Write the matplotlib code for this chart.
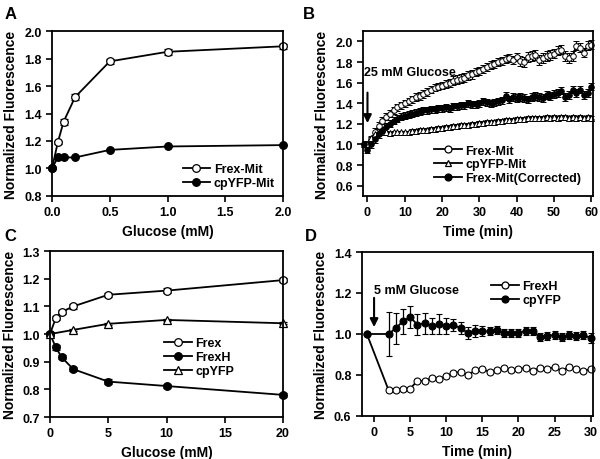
import numpy as np
import matplotlib
matplotlib.use("Agg")
import matplotlib.pyplot as plt
from matplotlib.lines import Line2D

plt.rcParams['font.family'] = ['Liberation Sans', 'DejaVu Sans']
plt.rcParams['font.weight'] = 'bold'
plt.rcParams['axes.labelweight'] = 'bold'
plt.rcParams['font.size'] = 9

# ---------- Panel A ----------
a_glucose = [0, 0.05, 0.1, 0.2, 0.5, 1.0, 2.0]
a_frex_mit = [1.0, 1.19, 1.34, 1.52, 1.78, 1.85, 1.89]
a_frex_mit_err = [0.0, 0.012, 0.02, 0.02, 0.02, 0.02, 0.02]
a_cpyfp_mit = [1.0, 1.08, 1.08, 1.08, 1.135, 1.16, 1.17]
a_cpyfp_mit_err = [0.0, 0.005, 0.005, 0.005, 0.005, 0.005, 0.005]

# ---------- Panel B ----------
b_time = list(range(-1, 61))
b_frex_mit = [1.0, 1.0, 1.05, 1.12, 1.18, 1.23, 1.27, 1.30, 1.33, 1.36, 1.38,
              1.40, 1.42, 1.44, 1.46, 1.47, 1.49, 1.51, 1.53, 1.55, 1.56,
              1.57, 1.59, 1.60, 1.62, 1.63, 1.64, 1.65, 1.67, 1.68, 1.70,
              1.71, 1.73, 1.75, 1.77, 1.78, 1.80, 1.81, 1.83, 1.84, 1.82,
              1.85, 1.81, 1.80, 1.85, 1.86, 1.87, 1.82, 1.84, 1.86, 1.87,
              1.88, 1.91, 1.92, 1.86, 1.84, 1.86, 1.96, 1.94, 1.89, 1.96, 1.97]
b_frex_mit_err = [0.0, 0.03] + [0.035] * 20 + [0.04] * 20 + [0.045] * 20
b_cpyfp_mit = [1.0, 1.0, 1.06, 1.10, 1.12, 1.12, 1.12, 1.11, 1.12, 1.12, 1.12,
               1.12, 1.12, 1.13, 1.13, 1.14, 1.14, 1.14, 1.15, 1.15, 1.16,
               1.16, 1.17, 1.17, 1.18, 1.18, 1.19, 1.19, 1.19, 1.20, 1.20,
               1.21, 1.21, 1.22, 1.22, 1.22, 1.23, 1.23, 1.24, 1.24, 1.24,
               1.25, 1.25, 1.25, 1.26, 1.26, 1.26, 1.26, 1.26, 1.27, 1.26,
               1.27, 1.26, 1.27, 1.27, 1.26, 1.27, 1.26, 1.27, 1.26, 1.27, 1.26]
b_cpyfp_mit_err = [0.0] + [0.015] * 61
b_frex_corr = [1.0, 0.95, 1.0, 1.05, 1.10, 1.13, 1.17, 1.20, 1.23, 1.25, 1.27,
               1.28, 1.29, 1.30, 1.31, 1.32, 1.33, 1.33, 1.34, 1.34, 1.35,
               1.35, 1.36, 1.35, 1.37, 1.37, 1.38, 1.38, 1.40, 1.39, 1.39,
               1.40, 1.42, 1.41, 1.40, 1.41, 1.42, 1.43, 1.47, 1.44, 1.46,
               1.45, 1.46, 1.45, 1.44, 1.46, 1.47, 1.46, 1.45, 1.48, 1.47,
               1.49, 1.50, 1.52, 1.46, 1.48, 1.53, 1.50, 1.53, 1.48, 1.50, 1.56]
b_frex_corr_err = [0.0, 0.03] + [0.035] * 60

# ---------- Panel C ----------
c_glucose = [0, 0.5, 1, 2, 5, 10, 20]
c_frex = [1.0, 1.058, 1.08, 1.10, 1.142, 1.157, 1.195]
c_frexh = [1.0, 0.952, 0.916, 0.873, 0.828, 0.812, 0.780]
c_cpyfp_glucose = [0, 2, 5, 10, 20]
c_cpyfp = [1.0, 1.015, 1.037, 1.051, 1.039]
c_err = 0.008

# ---------- Panel D ----------
d_time = [-1] + list(range(2, 31))
d_frexh = [1.0, 0.727, 0.727, 0.730, 0.733, 0.772, 0.770, 0.786, 0.780, 0.795,
           0.810, 0.815, 0.800, 0.822, 0.828, 0.816, 0.825, 0.835, 0.822, 0.828,
           0.835, 0.820, 0.836, 0.830, 0.838, 0.820, 0.840, 0.828, 0.818, 0.830]
d_frexh_err = [0.0] + [0.008] * 29
d_cpyfp = [1.0, 1.0, 1.028, 1.062, 1.082, 1.046, 1.052, 1.040, 1.049, 1.040,
           1.044, 1.028, 1.005, 1.016, 1.013, 1.013, 1.021, 1.005, 1.003, 1.005,
           1.016, 1.013, 0.984, 0.989, 0.997, 0.984, 0.995, 0.989, 0.995, 0.980]
d_cpyfp_err = [0.0, 0.105, 0.075, 0.06, 0.055, 0.05, 0.05, 0.04, 0.05, 0.04,
               0.03, 0.03, 0.03, 0.03, 0.025, 0.02, 0.02, 0.02, 0.02, 0.02,
               0.02, 0.02, 0.02, 0.02, 0.02, 0.02, 0.02, 0.02, 0.02, 0.025]

fig = plt.figure(figsize=(6, 4.6), dpi=100)
axA = fig.add_axes([0.0867, 0.572, 0.385, 0.358])
axB = fig.add_axes([0.605, 0.572, 0.383, 0.358])
axC = fig.add_axes([0.0833, 0.0913, 0.3884, 0.3607])
axD = fig.add_axes([0.603, 0.0935, 0.385, 0.3565])

def style(ax):
    for s in ax.spines.values():
        s.set_linewidth(1.3)
    ax.tick_params(direction='out', length=4, width=1.2, labelsize=9,
                   top=False, right=False)
    for lab in ax.get_xticklabels() + ax.get_yticklabels():
        lab.set_fontweight('bold')
    ax.set_ylabel('Normalized Fluorescence', fontsize=10, fontweight='bold', labelpad=4)

def proxy(marker, mfc, ms):
    return Line2D([], [], color='black', lw=1.3, marker=marker, ms=ms,
                  mfc=mfc, mec='black', mew=0.9)

def leg(ax, handles, labels, anchor):
    lg = ax.legend(handles, labels, loc='lower left', bbox_to_anchor=anchor,
                   frameon=False, fontsize=9, handlelength=2.2, handletextpad=0.3,
                   labelspacing=0.15, borderaxespad=0, borderpad=0)
    for t in lg.get_texts():
        t.set_fontweight('bold')

ekw = dict(color='black', ecolor='black', elinewidth=0.9, lw=1.3, capthick=0.9, clip_on=False)

# Panel A
axA.errorbar(a_glucose, a_frex_mit, yerr=a_frex_mit_err, fmt='-o', ms=5.5,
             mfc='white', mec='black', mew=0.9, capsize=3, **ekw)
axA.errorbar(a_glucose, a_cpyfp_mit, yerr=a_cpyfp_mit_err, fmt='-o', ms=5.5,
             mfc='black', mec='black', mew=0.9, capsize=2, **ekw)
axA.set_xlim(0, 2.0)
axA.set_ylim(0.8, 2.0)
axA.set_xticks([0.0, 0.5, 1.0, 1.5, 2.0])
axA.set_xticklabels(['0.0', '0.5', '1.0', '1.5', '2.0'])
axA.set_yticks(np.round(np.arange(0.8, 2.01, 0.2), 1))
axA.set_xlabel('Glucose (mM)', fontsize=10, fontweight='bold')
style(axA)
leg(axA, [proxy('o', 'white', 5.5), proxy('o', 'black', 5.5)],
    ['Frex-Mit', 'cpYFP-Mit'], (0.565, 0.04))

# Panel B
axB.errorbar(b_time, b_frex_mit, yerr=b_frex_mit_err, fmt='-o', ms=4,
             mfc='white', mec='black', mew=0.7, capsize=2.5, **ekw)
axB.errorbar(b_time, b_cpyfp_mit, yerr=b_cpyfp_mit_err, fmt='-^', ms=4,
             mfc='white', mec='black', mew=0.7, capsize=2.5, **ekw)
axB.errorbar(b_time, b_frex_corr, yerr=b_frex_corr_err, fmt='-o', ms=4,
             mfc='black', mec='black', mew=0.7, capsize=2.5, **ekw)
axB.set_xlim(-1.2, 60.4)
axB.set_ylim(0.5, 2.1)
axB.set_xticks([0, 10, 20, 30, 40, 50, 60])
axB.set_yticks(np.round(np.arange(0.6, 2.01, 0.2), 1))
axB.set_xlabel('Time (min)', fontsize=10, fontweight='bold')
axB.annotate('', xy=(0, 1.18), xytext=(0, 1.53),
             arrowprops=dict(arrowstyle='-|>', color='black', lw=1.5, mutation_scale=12))
axB.text(-1, 1.70, '25 mM Glucose', fontsize=9, fontweight='bold', va='center', ha='left')
style(axB)
leg(axB, [proxy('o', 'white', 5), proxy('^', 'white', 5), proxy('o', 'black', 5)],
    ['Frex-Mit', 'cpYFP-Mit', 'Frex-Mit(Corrected)'], (0.31, 0.07))

# Panel C
axC.errorbar(c_glucose, c_frex, yerr=c_err, fmt='-o', ms=5.5, mfc='white', mec='black',
             mew=0.9, capsize=3, **ekw)
axC.errorbar(c_glucose, c_frexh, yerr=c_err, fmt='-o', ms=5.5, mfc='black', mec='black',
             mew=0.9, capsize=3, **ekw)
axC.errorbar(c_cpyfp_glucose, c_cpyfp, yerr=0.004, fmt='-^', ms=5.5, mfc='white', mec='black',
             mew=0.9, capsize=3, **ekw)
axC.set_xlim(0, 20)
axC.set_ylim(0.7, 1.3)
axC.set_xticks([0, 5, 10, 15, 20])
axC.set_yticks(np.round(np.arange(0.7, 1.31, 0.1), 1))
axC.set_xlabel('Glucose (mM)', fontsize=10, fontweight='bold')
style(axC)
leg(axC, [proxy('o', 'white', 5.5), proxy('o', 'black', 5.5), proxy('^', 'white', 5.5)],
    ['Frex', 'FrexH', 'cpYFP'], (0.49, 0.24))

# Panel D
axD.errorbar(d_time, d_frexh, yerr=d_frexh_err, fmt='-o', ms=5, mfc='white', mec='black',
             mew=0.8, capsize=2.5, **ekw)
axD.errorbar(d_time, d_cpyfp, yerr=d_cpyfp_err, fmt='-o', ms=5, mfc='black', mec='black',
             mew=0.8, capsize=2.5, **ekw)
axD.set_xlim(-1.7, 30.3)
axD.set_ylim(0.6, 1.4)
axD.set_xticks([0, 5, 10, 15, 20, 25, 30])
axD.set_yticks([0.6, 0.8, 1.0, 1.2, 1.4])
axD.set_xlabel('Time (min)', fontsize=10, fontweight='bold')
axD.annotate('', xy=(0, 1.02), xytext=(0, 1.19),
             arrowprops=dict(arrowstyle='-|>', color='black', lw=1.5, mutation_scale=12))
axD.text(0, 1.217, '5 mM Glucose', fontsize=9, fontweight='bold', va='center', ha='left')
style(axD)
leg(axD, [proxy('o', 'white', 5), proxy('o', 'black', 5)], ['FrexH', 'cpYFP'], (0.56, 0.67))

for lbl, x, y in [('A', 0.008, 0.968), ('B', 0.505, 0.968), ('C', 0.008, 0.485), ('D', 0.508, 0.485)]:
    fig.text(x, y, lbl, fontsize=12, fontweight='bold', va='center', ha='left')

fig.savefig('out.png', dpi=100)
